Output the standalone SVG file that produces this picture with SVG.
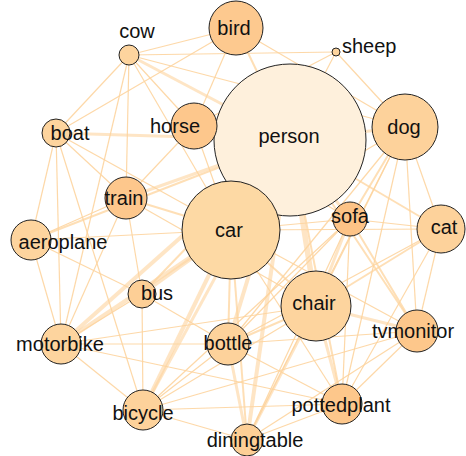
<svg xmlns="http://www.w3.org/2000/svg" width="466" height="456" viewBox="0 0 466 456">
<style>
.e{stroke:#fdd49e;stroke-opacity:0.6;fill:none}
.w1{stroke-width:1.2;stroke-opacity:0.9}
.w2{stroke-width:2;stroke-opacity:0.75}
.w3{stroke-width:3}
.w4{stroke-width:4}
.w5{stroke-width:5.5}
.n circle{stroke:#222;stroke-width:1}
.n text{font-family:"Liberation Sans",Arial,sans-serif;font-size:20px;fill:#111;text-anchor:middle}
</style>
<rect width="466" height="456" fill="#fff"/>
<g id="connectors">
<line class="e w2" x1="290" y1="140" x2="236" y2="28"/>
<line class="e w3" x1="290" y1="140" x2="129" y2="55"/>
<line class="e w1" x1="290" y1="140" x2="336" y2="52"/>
<line class="e w3" x1="290" y1="140" x2="56" y2="133"/>
<line class="e w3" x1="290" y1="140" x2="194" y2="126"/>
<line class="e w3" x1="290" y1="140" x2="126" y2="198"/>
<line class="e w3" x1="290" y1="140" x2="405" y2="127"/>
<line class="e w2" x1="290" y1="140" x2="31" y2="240"/>
<line class="e w5" x1="290" y1="140" x2="231" y2="230"/>
<line class="e w3" x1="290" y1="140" x2="350" y2="219"/>
<line class="e w2" x1="290" y1="140" x2="441" y2="229"/>
<line class="e w2" x1="290" y1="140" x2="142" y2="294"/>
<line class="e w4" x1="290" y1="140" x2="61" y2="344"/>
<line class="e w5" x1="290" y1="140" x2="316" y2="306"/>
<line class="e w4" x1="290" y1="140" x2="228" y2="344"/>
<line class="e w2" x1="290" y1="140" x2="417" y2="331"/>
<line class="e w2" x1="290" y1="140" x2="342" y2="404"/>
<line class="e w3" x1="290" y1="140" x2="143" y2="410"/>
<line class="e w4" x1="290" y1="140" x2="247" y2="440"/>
<line class="e w1" x1="129" y1="55" x2="236" y2="28"/>
<line class="e w1" x1="129" y1="55" x2="336" y2="52"/>
<line class="e w1" x1="129" y1="55" x2="194" y2="126"/>
<line class="e w1" x1="129" y1="55" x2="56" y2="133"/>
<line class="e w1" x1="129" y1="55" x2="126" y2="198"/>
<line class="e w1" x1="129" y1="55" x2="61" y2="344"/>
<line class="e w1" x1="129" y1="55" x2="231" y2="230"/>
<line class="e w1" x1="129" y1="55" x2="405" y2="127"/>
<line class="e w1" x1="236" y1="28" x2="56" y2="133"/>
<line class="e w1" x1="236" y1="28" x2="405" y2="127"/>
<line class="e w1" x1="236" y1="28" x2="194" y2="126"/>
<line class="e w1" x1="336" y1="52" x2="405" y2="127"/>
<line class="e w1" x1="336" y1="52" x2="194" y2="126"/>
<line class="e w1" x1="56" y1="133" x2="126" y2="198"/>
<line class="e w1" x1="56" y1="133" x2="31" y2="240"/>
<line class="e w1" x1="56" y1="133" x2="61" y2="344"/>
<line class="e w1" x1="56" y1="133" x2="231" y2="230"/>
<line class="e w1" x1="56" y1="133" x2="143" y2="410"/>
<line class="e w1" x1="194" y1="126" x2="126" y2="198"/>
<line class="e w1" x1="194" y1="126" x2="231" y2="230"/>
<line class="e w1" x1="194" y1="126" x2="350" y2="219"/>
<line class="e w1" x1="126" y1="198" x2="31" y2="240"/>
<line class="e w2" x1="126" y1="198" x2="231" y2="230"/>
<line class="e w1" x1="126" y1="198" x2="142" y2="294"/>
<line class="e w1" x1="126" y1="198" x2="61" y2="344"/>
<line class="e w1" x1="126" y1="198" x2="316" y2="306"/>
<line class="e w1" x1="31" y1="240" x2="231" y2="230"/>
<line class="e w1" x1="31" y1="240" x2="61" y2="344"/>
<line class="e w1" x1="31" y1="240" x2="142" y2="294"/>
<line class="e w4" x1="231" y1="230" x2="142" y2="294"/>
<line class="e w4" x1="231" y1="230" x2="61" y2="344"/>
<line class="e w4" x1="231" y1="230" x2="143" y2="410"/>
<line class="e w2" x1="231" y1="230" x2="228" y2="344"/>
<line class="e w2" x1="231" y1="230" x2="316" y2="306"/>
<line class="e w2" x1="231" y1="230" x2="247" y2="440"/>
<line class="e w1" x1="231" y1="230" x2="342" y2="404"/>
<line class="e w1" x1="231" y1="230" x2="417" y2="331"/>
<line class="e w1" x1="231" y1="230" x2="350" y2="219"/>
<line class="e w1" x1="231" y1="230" x2="405" y2="127"/>
<line class="e w1" x1="231" y1="230" x2="441" y2="229"/>
<line class="e w1" x1="142" y1="294" x2="143" y2="410"/>
<line class="e w1" x1="142" y1="294" x2="61" y2="344"/>
<line class="e w1" x1="142" y1="294" x2="228" y2="344"/>
<line class="e w1" x1="61" y1="344" x2="143" y2="410"/>
<line class="e w1" x1="61" y1="344" x2="228" y2="344"/>
<line class="e w1" x1="61" y1="344" x2="316" y2="306"/>
<line class="e w1" x1="61" y1="344" x2="342" y2="404"/>
<line class="e w1" x1="143" y1="410" x2="228" y2="344"/>
<line class="e w1" x1="143" y1="410" x2="316" y2="306"/>
<line class="e w1" x1="143" y1="410" x2="247" y2="440"/>
<line class="e w1" x1="143" y1="410" x2="342" y2="404"/>
<line class="e w1" x1="143" y1="410" x2="417" y2="331"/>
<line class="e w1" x1="143" y1="410" x2="350" y2="219"/>
<line class="e w3" x1="316" y1="306" x2="350" y2="219"/>
<line class="e w3" x1="316" y1="306" x2="417" y2="331"/>
<line class="e w3" x1="316" y1="306" x2="342" y2="404"/>
<line class="e w3" x1="316" y1="306" x2="247" y2="440"/>
<line class="e w2" x1="316" y1="306" x2="228" y2="344"/>
<line class="e w1" x1="316" y1="306" x2="405" y2="127"/>
<line class="e w2" x1="316" y1="306" x2="441" y2="229"/>
<line class="e w2" x1="350" y1="219" x2="405" y2="127"/>
<line class="e w1" x1="350" y1="219" x2="441" y2="229"/>
<line class="e w2" x1="350" y1="219" x2="417" y2="331"/>
<line class="e w1" x1="350" y1="219" x2="342" y2="404"/>
<line class="e w1" x1="350" y1="219" x2="247" y2="440"/>
<line class="e w1" x1="350" y1="219" x2="228" y2="344"/>
<line class="e w1" x1="405" y1="127" x2="441" y2="229"/>
<line class="e w1" x1="405" y1="127" x2="417" y2="331"/>
<line class="e w1" x1="405" y1="127" x2="342" y2="404"/>
<line class="e w1" x1="405" y1="127" x2="228" y2="344"/>
<line class="e w1" x1="405" y1="127" x2="247" y2="440"/>
<line class="e w1" x1="441" y1="229" x2="417" y2="331"/>
<line class="e w1" x1="441" y1="229" x2="342" y2="404"/>
<line class="e w1" x1="441" y1="229" x2="228" y2="344"/>
<line class="e w3" x1="228" y1="344" x2="247" y2="440"/>
<line class="e w1" x1="228" y1="344" x2="342" y2="404"/>
<line class="e w1" x1="228" y1="344" x2="417" y2="331"/>
<line class="e w1" x1="417" y1="331" x2="342" y2="404"/>
<line class="e w1" x1="417" y1="331" x2="247" y2="440"/>
<line class="e w1" x1="342" y1="404" x2="247" y2="440"/>
</g>
<g id="node-person" class="n"><circle cx="290" cy="140" r="76" fill="#fef0dc"/><text x="289" y="143">person</text></g>
<g id="node-bird" class="n"><circle cx="236" cy="28" r="27" fill="#fdc98f"/><text x="234" y="35">bird</text></g>
<g id="node-cow" class="n"><circle cx="129" cy="55" r="10" fill="#fdd49e"/><text x="137" y="38">cow</text></g>
<g id="node-sheep" class="n"><circle cx="336" cy="52" r="4" fill="#fdd49e"/><text x="342" y="53" style="text-anchor:start">sheep</text></g>
<g id="node-boat" class="n"><circle cx="56" cy="133" r="14" fill="#fdd49e"/><text x="70" y="140">boat</text></g>
<g id="node-horse" class="n"><circle cx="194" cy="126" r="23" fill="#fdc78c"/><text x="175" y="133">horse</text></g>
<g id="node-train" class="n"><circle cx="126" cy="198" r="21" fill="#fdc78c"/><text x="124" y="205">train</text></g>
<g id="node-dog" class="n"><circle cx="405" cy="127" r="33" fill="#fdd29b"/><text x="404" y="134">dog</text></g>
<g id="node-aeroplane" class="n"><circle cx="31" cy="240" r="20" fill="#fdd49e"/><text x="63" y="249">aeroplane</text></g>
<g id="node-car" class="n"><circle cx="231" cy="230" r="49" fill="#fdd9a4"/><text x="229" y="237">car</text></g>
<g id="node-sofa" class="n"><circle cx="350" cy="219" r="17" fill="#fdc386"/><text x="350" y="223">sofa</text></g>
<g id="node-cat" class="n"><circle cx="441" cy="229" r="24" fill="#fdd29b"/><text x="444" y="234">cat</text></g>
<g id="node-bus" class="n"><circle cx="142" cy="294" r="14" fill="#fdcf96"/><text x="157" y="300">bus</text></g>
<g id="node-motorbike" class="n"><circle cx="61" cy="344" r="20" fill="#fdd49e"/><text x="60" y="351">motorbike</text></g>
<g id="node-chair" class="n"><circle cx="316" cy="306" r="35" fill="#fdd49e"/><text x="314" y="310">chair</text></g>
<g id="node-bottle" class="n"><circle cx="228" cy="344" r="21" fill="#fdd29b"/><text x="228" y="350">bottle</text></g>
<g id="node-tvmonitor" class="n"><circle cx="417" cy="331" r="21" fill="#fdc78b"/><text x="413" y="338">tvmonitor</text></g>
<g id="node-pottedplant" class="n"><circle cx="342" cy="404" r="20" fill="#fdc78b"/><text x="341" y="412">pottedplant</text></g>
<g id="node-bicycle" class="n"><circle cx="143" cy="410" r="20" fill="#fdd29b"/><text x="143" y="420">bicycle</text></g>
<g id="node-diningtable" class="n"><circle cx="247" cy="440" r="16" fill="#fdcf96"/><text x="255" y="447">diningtable</text></g>
</svg>
